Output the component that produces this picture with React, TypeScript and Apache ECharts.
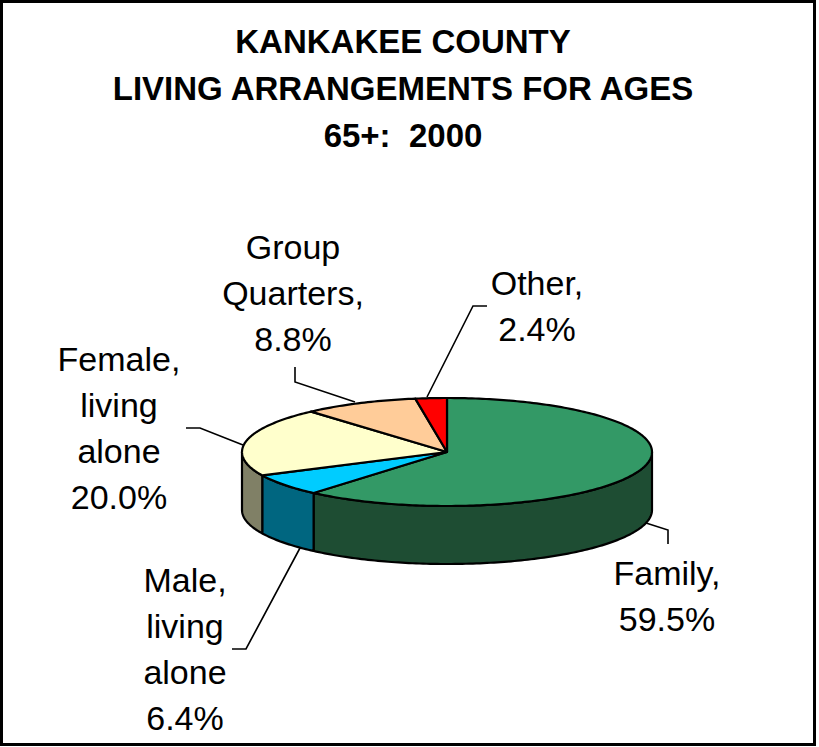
import React, { useEffect, useRef } from "react";
import * as echarts from "echarts";

// ---- Data ----
const categories = ["Family", "Male, living alone", "Female, living alone", "Group Quarters", "Other"];
const labelNames = [["Family,"], ["Male,", "living", "alone"], ["Female,", "living", "alone"], ["Group", "Quarters,"], ["Other,"]];
const values = [59.5, 6.4, 20.0, 8.8, 2.4];
const titleLines = ["KANKAKEE COUNTY", "LIVING ARRANGEMENTS FOR AGES", "65+:  2000"];

// ---- Styles ----
const topColors = ["#339966", "#00CCFF", "#FFFFCC", "#FFCC99", "#FF0000"];
const sideColors = ["#1E4D33", "#006680", "#808066", "#806633", "#800000"];
const FONT = "'Liberation Sans', Arial, sans-serif";

// ---- Layout ----
const CX = 447, CY = 452, RX = 205, RY = 54, DEPTH = 58;
const labelPos = [
  { x: 667, y: 550 },
  { x: 185, y: 557 },
  { x: 119, y: 336 },
  { x: 293, y: 224 },
  { x: 537, y: 260 },
];
const leaderLines = [
  [[646, 523], [668, 530], [668, 544]],
  [[232, 649], [246, 649], [300, 548]],
  [[186, 428], [200, 428], [243, 445]],
  [[295, 367], [295, 382], [355, 402]],
  [[487, 306], [473, 306], [427, 397]],
];

export default function App() {
  const ref = useRef<HTMLDivElement>(null);
  useEffect(() => {
    if (!ref.current) return;
    const chart = echarts.init(ref.current, null, { renderer: "svg" });
    const total = values.reduce((a, b) => a + b, 0);

    const renderItem = (params: any, api: any) => {
      const i = params.dataIndex;
      let before = 0;
      for (let k = 0; k < i; k++) before += values[k];
      const v = api.value(0);
      const a0 = (before / total) * Math.PI * 2;
      const a1 = ((before + v) / total) * Math.PI * 2;
      const pt = (a: number, dy = 0) => [CX + RX * Math.sin(a), CY - RY * Math.cos(a) + dy];
      const N = Math.max(2, Math.ceil((a1 - a0) / (Math.PI / 180)));
      const top: number[][] = [[CX, CY]];
      for (let k = 0; k <= N; k++) top.push(pt(a0 + ((a1 - a0) * k) / N));
      const children: any[] = [];
      const s0 = Math.max(a0, Math.PI / 2);
      const s1 = Math.min(a1, (Math.PI * 3) / 2);
      if (s1 > s0) {
        const M = Math.max(2, Math.ceil((s1 - s0) / (Math.PI / 180)));
        const upper: number[][] = [];
        const lower: number[][] = [];
        for (let k = 0; k <= M; k++) {
          const a = s0 + ((s1 - s0) * k) / M;
          upper.push(pt(a));
          lower.push(pt(a, DEPTH));
        }
        children.push({
          type: "polygon",
          z2: 1,
          shape: { points: upper.concat(lower.reverse()) },
          style: { fill: sideColors[i], stroke: "#000", lineWidth: 2.2, lineJoin: "round" },
        });
      }
      children.push({
        type: "polygon",
        z2: 10,
        shape: { points: top },
        style: { fill: topColors[i], stroke: "#000", lineWidth: 2.2, lineJoin: "round" },
      });
      return { type: "group", children };
    };

    const graphics: any[] = [
      {
        type: "rect",
        z: 0,
        shape: { x: 1.5, y: 1.5, width: 813, height: 743 },
        style: { fill: "none", stroke: "#000", lineWidth: 3 },
        silent: true,
      },
      {
        type: "text",
        x: 403,
        y: 18,
        style: {
          text: titleLines.join("\n"),
          font: `bold 33px ${FONT}`,
          fill: "#000",
          align: "center",
          verticalAlign: "top",
          lineHeight: 47,
        },
      },
    ];
    values.forEach((v, i) => {
      graphics.push({
        type: "polyline",
        shape: { points: leaderLines[i] },
        style: { stroke: "#000", lineWidth: 1.6, fill: "none" },
      });
      graphics.push({
        type: "text",
        x: labelPos[i].x,
        y: labelPos[i].y,
        style: {
          text: labelNames[i].join("\n") + "\n" + v.toFixed(1) + "%",
          font: `34px ${FONT}`,
          fill: "#000",
          align: "center",
          verticalAlign: "top",
          lineHeight: 46,
        },
      });
    });

    chart.setOption({
      animation: false,
      backgroundColor: "#fff",
      graphic: graphics,
      series: [
        {
          type: "custom",
          coordinateSystem: "none",
          renderItem,
          data: values.map((v, i) => ({ name: categories[i], value: [v] })),
        },
      ],
    });
    return () => chart.dispose();
  }, []);
  return <div ref={ref} style={{ position: "fixed", left: 0, top: 0, width: 819, height: 747 }} />;
}
